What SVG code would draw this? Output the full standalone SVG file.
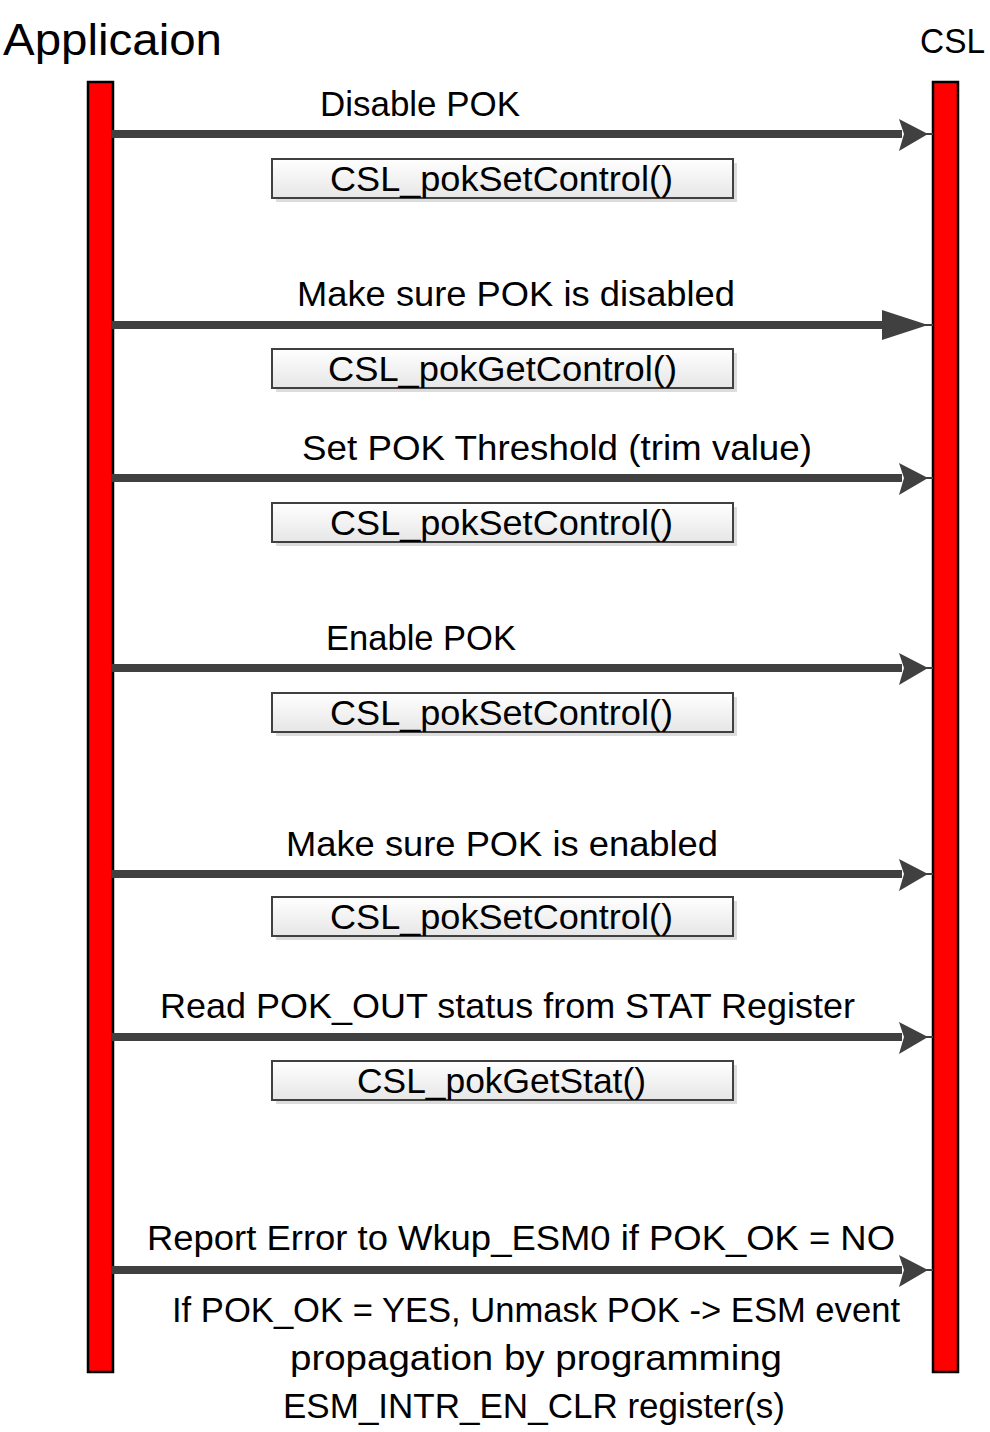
<svg xmlns="http://www.w3.org/2000/svg" width="990" height="1432" viewBox="0 0 990 1432">
<style>
.t{font-family:"Liberation Sans",Arial,sans-serif;fill:#000}
.lbl{font-size:35px}
.fn{font-size:35px}
.bar{fill:#ff0000;stroke:#000;stroke-width:2.5}
.ln{stroke:#404040;stroke-width:8;fill:none}
.hd{fill:#404040}
.box{fill:url(#g);stroke:#404040;stroke-width:2}
.sh{fill:#dcdcdc}
</style>
<defs>
<linearGradient id="g" x1="0" y1="0" x2="0" y2="1">
<stop offset="0" stop-color="#ffffff"/>
<stop offset="1" stop-color="#e6e6e6"/>
</linearGradient>
</defs>
<g id="lifeline-app">
<text class="t" x="3" y="55" font-size="44" textLength="219" lengthAdjust="spacingAndGlyphs">Applicaion</text>
<rect class="bar" x="88" y="82" width="25" height="1290"/>
</g>
<g id="lifeline-csl">
<text class="t" x="920" y="53" font-size="35" textLength="65" lengthAdjust="spacingAndGlyphs">CSL</text>
<rect class="bar" x="933" y="82" width="25" height="1290"/>
</g>
<g id="connectors">
<line class="ln" x1="111" y1="134" x2="902" y2="134"/>
<line x1="925" y1="134" x2="933" y2="134" stroke="#404040" stroke-width="2"/>
<polygon class="hd" points="899,119 928,134 899,151 904,134"/>
<line class="ln" x1="111" y1="325" x2="885" y2="325"/>
<line x1="925" y1="325" x2="933" y2="325" stroke="#404040" stroke-width="2"/>
<polygon class="hd" points="882,310 928,325 882,340"/>
<line class="ln" x1="111" y1="478" x2="902" y2="478"/>
<line x1="925" y1="478" x2="933" y2="478" stroke="#404040" stroke-width="2"/>
<polygon class="hd" points="899,463 928,478 899,495 904,478"/>
<line class="ln" x1="111" y1="668" x2="902" y2="668"/>
<line x1="925" y1="668" x2="933" y2="668" stroke="#404040" stroke-width="2"/>
<polygon class="hd" points="899,653 928,668 899,685 904,668"/>
<line class="ln" x1="111" y1="874" x2="902" y2="874"/>
<line x1="925" y1="874" x2="933" y2="874" stroke="#404040" stroke-width="2"/>
<polygon class="hd" points="899,859 928,874 899,891 904,874"/>
<line class="ln" x1="111" y1="1037" x2="902" y2="1037"/>
<line x1="925" y1="1037" x2="933" y2="1037" stroke="#404040" stroke-width="2"/>
<polygon class="hd" points="899,1022 928,1037 899,1054 904,1037"/>
<line class="ln" x1="111" y1="1270" x2="902" y2="1270"/>
<line x1="925" y1="1270" x2="933" y2="1270" stroke="#404040" stroke-width="2"/>
<polygon class="hd" points="899,1255 928,1270 899,1287 904,1270"/>
</g>
<g id="msg1">
<text class="t lbl" x="320" y="116" textLength="200" lengthAdjust="spacingAndGlyphs">Disable POK</text>
<rect class="sh" x="276" y="163" width="461" height="39"/>
<rect class="box" x="272" y="159" width="461" height="39"/>
<text class="t fn" x="330" y="191" textLength="343" lengthAdjust="spacingAndGlyphs">CSL_pokSetControl()</text>
</g>
<g id="msg2">
<text class="t lbl" x="297" y="306" textLength="438" lengthAdjust="spacingAndGlyphs">Make sure POK is disabled</text>
<rect class="sh" x="276" y="353" width="461" height="39"/>
<rect class="box" x="272" y="349" width="461" height="39"/>
<text class="t fn" x="328" y="381" textLength="349" lengthAdjust="spacingAndGlyphs">CSL_pokGetControl()</text>
</g>
<g id="msg3">
<text class="t lbl" x="302" y="460" textLength="510" lengthAdjust="spacingAndGlyphs">Set POK Threshold (trim value)</text>
<rect class="sh" x="276" y="507" width="461" height="39"/>
<rect class="box" x="272" y="503" width="461" height="39"/>
<text class="t fn" x="330" y="535" textLength="343" lengthAdjust="spacingAndGlyphs">CSL_pokSetControl()</text>
</g>
<g id="msg4">
<text class="t lbl" x="326" y="650" textLength="190" lengthAdjust="spacingAndGlyphs">Enable POK</text>
<rect class="sh" x="276" y="697" width="461" height="39"/>
<rect class="box" x="272" y="693" width="461" height="39"/>
<text class="t fn" x="330" y="725" textLength="343" lengthAdjust="spacingAndGlyphs">CSL_pokSetControl()</text>
</g>
<g id="msg5">
<text class="t lbl" x="286" y="856" textLength="432" lengthAdjust="spacingAndGlyphs">Make sure POK is enabled</text>
<rect class="sh" x="276" y="901" width="461" height="39"/>
<rect class="box" x="272" y="897" width="461" height="39"/>
<text class="t fn" x="330" y="929" textLength="343" lengthAdjust="spacingAndGlyphs">CSL_pokSetControl()</text>
</g>
<g id="msg6">
<text class="t lbl" x="160" y="1018" textLength="695" lengthAdjust="spacingAndGlyphs">Read POK_OUT status from STAT Register</text>
<rect class="sh" x="276" y="1065" width="461" height="39"/>
<rect class="box" x="272" y="1061" width="461" height="39"/>
<text class="t fn" x="357" y="1093" textLength="289" lengthAdjust="spacingAndGlyphs">CSL_pokGetStat()</text>
</g>
<g id="msg7">
<text class="t lbl" x="147" y="1250" textLength="748" lengthAdjust="spacingAndGlyphs">Report Error to Wkup_ESM0 if POK_OK = NO</text>
<text class="t lbl" x="172" y="1322" textLength="728" lengthAdjust="spacingAndGlyphs">If POK_OK = YES, Unmask POK -&gt; ESM event</text>
<text class="t lbl" x="290" y="1370" textLength="492" lengthAdjust="spacingAndGlyphs">propagation by programming</text>
<text class="t lbl" x="283" y="1418" textLength="502" lengthAdjust="spacingAndGlyphs">ESM_INTR_EN_CLR register(s)</text>
</g>
</svg>
